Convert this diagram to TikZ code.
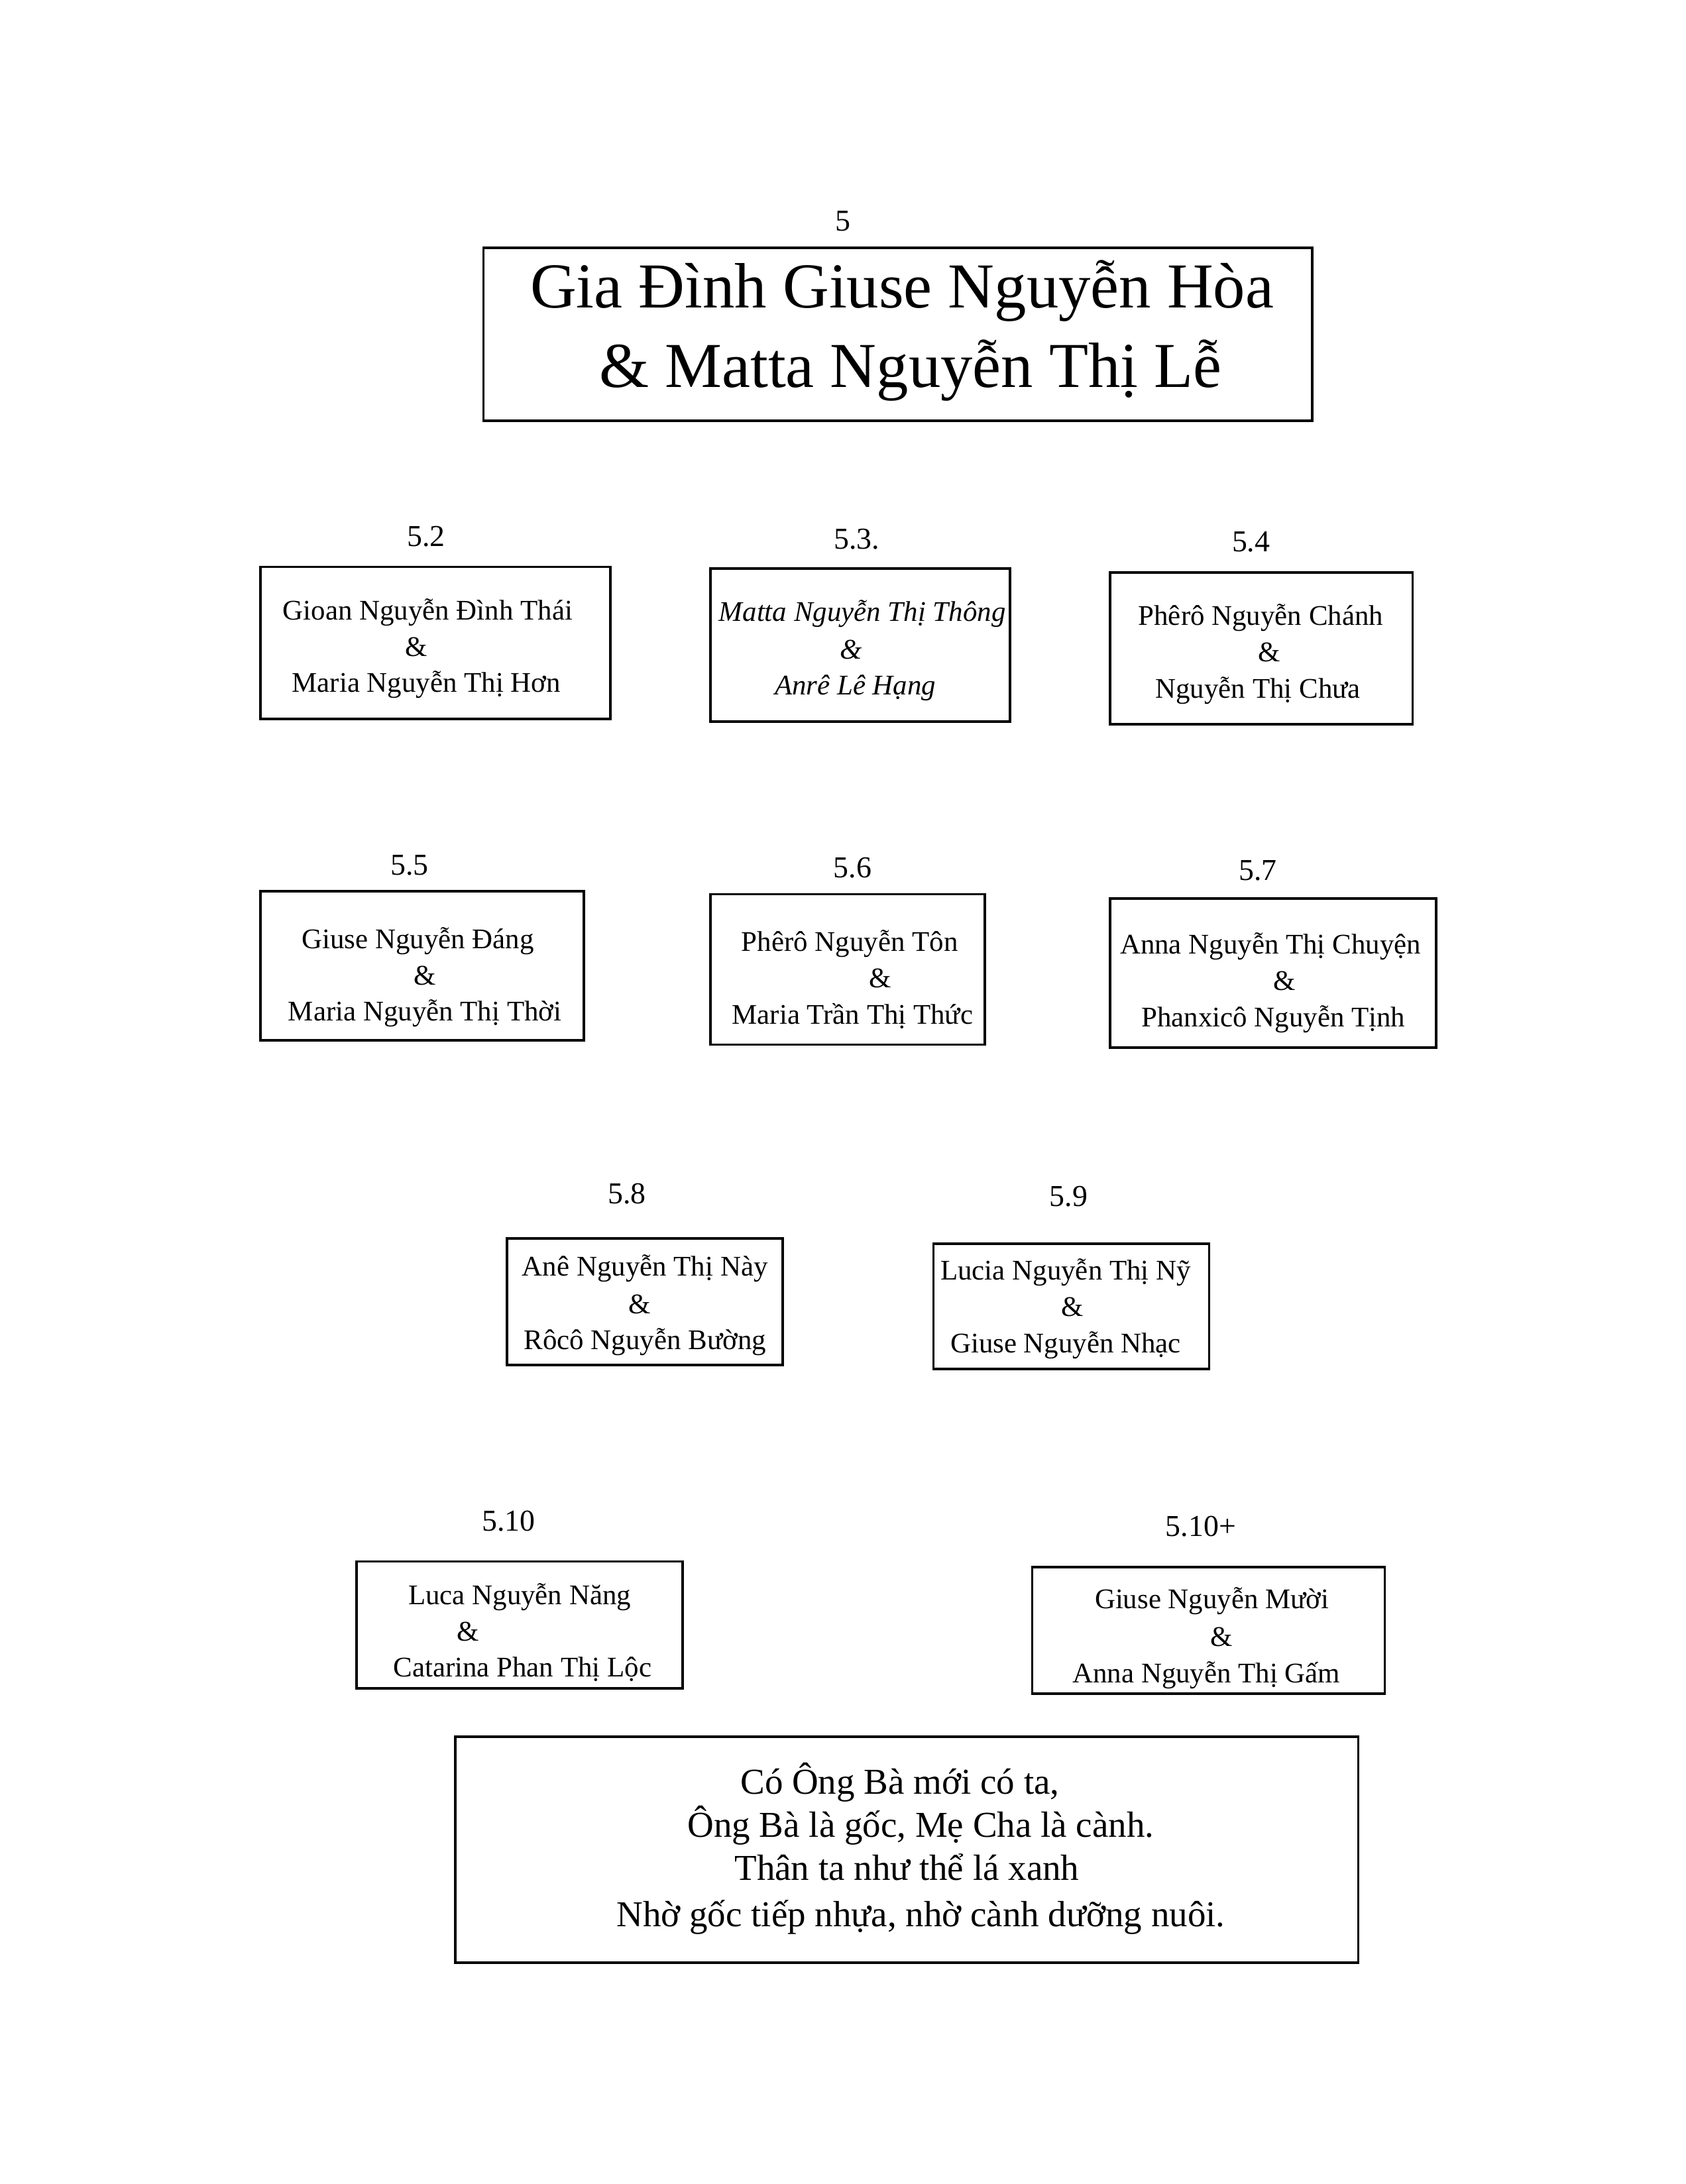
\documentclass[tikz,border=0pt]{standalone}
\usepackage{fontspec}
\setmainfont{Liberation Serif}
\usetikzlibrary{fit}
\tikzset{
  fambox/.style={draw, line width=0.9pt, inner sep=0pt, rectangle},
  lab/.style={font=\fontsize{11}{13}\selectfont, inner sep=0pt, anchor=base},
  nm/.style={font=\fontsize{10.3}{12}\selectfont, inner sep=0pt, anchor=base},
  nmit/.style={font=\fontsize{10.3}{12}\selectfont\itshape, inner sep=0pt, anchor=base},
  ttl/.style={font=\fontsize{23.2}{27}\selectfont, inner sep=0pt, anchor=base},
  poem/.style={font=\fontsize{13.2}{16}\selectfont, inner sep=0pt, anchor=base}
}
\begin{document}
\begin{tikzpicture}[x=0.5046pt, y=-0.5046pt]
\useasboundingbox[fill=white] (0,0) rectangle (1210,1568);

% Title
\node[lab] (l5) at (605,166) {5};
\node[fambox, fit={(347,178) (942,302)}] (b5) {};
\node[ttl] (t5a) at (647.5,221) {Gia Đình Giuse Nguyễn Hòa};
\node[ttl] (t5b) at (653.5,278) {\& Matta Nguyễn Thị Lễ};

% 5.2
\node[lab] (l52) at (306,392) {5.2};
\node[fambox, fit={(187,407) (438,516)}] (b52) {};
\node[nm] (t52a) at (307,445) {Gioan Nguyễn Đình Thái};
\node[nm] (t52b) at (299,471) {\&};
\node[nm] (t52c) at (306,497) {Maria Nguyễn Thị Hơn};

% 5.3
\node[lab] (l53) at (615,394) {5.3.};
\node[fambox, fit={(510,408) (725,518)}] (b53) {};
\node[nmit] (t53a) at (619,446) {Matta Nguyễn Thị Thông};
\node[nmit] (t53b) at (611,473) {\&};
\node[nmit] (t53c) at (614,499) {Anrê Lê Hạng};

% 5.4
\node[lab] (l54) at (898,396) {5.4};
\node[fambox, fit={(797,411) (1014,520)}] (b54) {};
\node[nm] (t54a) at (905,449) {Phêrô Nguyễn Chánh};
\node[nm] (t54b) at (911,475) {\&};
\node[nm] (t54c) at (903,501) {Nguyễn Thị Chưa};

% 5.5
\node[lab] (l55) at (294,628) {5.5};
\node[fambox, fit={(187,640) (419,747)}] (b55) {};
\node[nm] (t55a) at (300,681) {Giuse Nguyễn Đáng};
\node[nm] (t55b) at (305,707) {\&};
\node[nm] (t55c) at (305,733) {Maria Nguyễn Thị Thời};

% 5.6
\node[lab] (l56) at (612,630) {5.6};
\node[fambox, fit={(510,642) (707,750)}] (b56) {};
\node[nm] (t56a) at (610,683) {Phêrô Nguyễn Tôn};
\node[nm] (t56b) at (632,709) {\&};
\node[nm] (t56c) at (612,735) {Maria Trần Thị Thức};

% 5.7
\node[lab] (l57) at (903,632) {5.7};
\node[fambox, fit={(797,645) (1031,752)}] (b57) {};
\node[nm] (t57a) at (912,685) {Anna Nguyễn Thị Chuyện};
\node[nm] (t57b) at (922,711) {\&};
\node[nm] (t57c) at (914,737) {Phanxicô Nguyễn Tịnh};

% 5.8
\node[lab] (l58) at (450,864) {5.8};
\node[fambox, fit={(364,889) (562,980)}] (b58) {};
\node[nm] (t58a) at (463,916) {Anê Nguyễn Thị Này};
\node[nm] (t58b) at (459,943) {\&};
\node[nm] (t58c) at (463,969) {Rôcô Nguyễn Bường};

% 5.9
\node[lab] (l59) at (767,866) {5.9};
\node[fambox, fit={(670,893) (868,983)}] (b59) {};
\node[nm] (t59a) at (765,919) {Lucia Nguyễn Thị Nỹ};
\node[nm] (t59b) at (770,945) {\&};
\node[nm] (t59c) at (765,971) {Giuse Nguyễn Nhạc};

% 5.10
\node[lab] (l510) at (365,1099) {5.10};
\node[fambox, fit={(256,1121) (490,1212)}] (b510) {};
\node[nm] (t510a) at (373,1152) {Luca Nguyễn Năng};
\node[nm] (t510b) at (336,1178) {\&};
\node[nm] (t510c) at (375,1204) {Catarina Phan Thị Lộc};

% 5.10+
\node[lab] (l510p) at (862,1103) {5.10+};
\node[fambox, fit={(741,1125) (994,1216)}] (b510p) {};
\node[nm] (t510pa) at (870,1155) {Giuse Nguyễn Mười};
\node[nm] (t510pb) at (877,1182) {\&};
\node[nm] (t510pc) at (866,1208) {Anna Nguyễn Thị Gấm};

% Poem
\node[fambox, fit={(327,1247) (975,1409)}] (bpoem) {};
\node[poem] (p1) at (646,1288) {Có Ông Bà mới có ta,};
\node[poem] (p2) at (661,1319) {Ông Bà là gốc, Mẹ Cha là cành.};
\node[poem] (p3) at (651,1350) {Thân ta như thể lá xanh};
\node[poem] (p4) at (661,1383) {Nhờ gốc tiếp nhựa, nhờ cành dưỡng nuôi.};
\end{tikzpicture}
\end{document}
